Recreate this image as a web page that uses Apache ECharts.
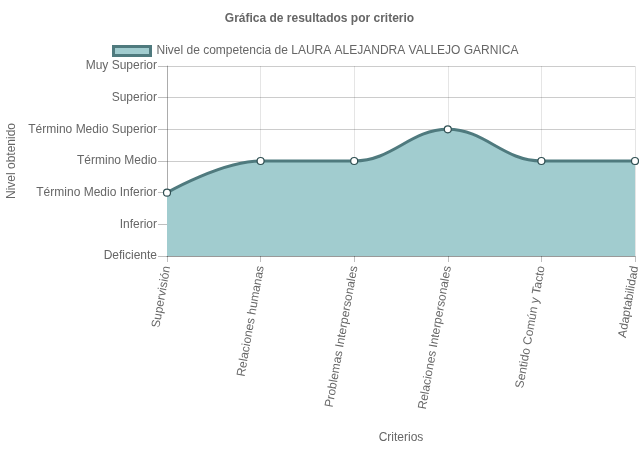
<!DOCTYPE html>
<html>
<head>
<meta charset="utf-8">
<script src="https://cdn.jsdelivr.net/npm/echarts@6/dist/echarts.min.js"></script>
<style>
html,body{margin:0;padding:0;background:#fff;}
#chart{width:639px;height:449px;}
</style>
</head>
<body>
<div id="chart"></div>
<script>
const categories = ["Supervisión", "Relaciones humanas", "Problemas Interpersonales", "Relaciones Interpersonales", "Sentido Común y Tacto", "Adaptabilidad"];
const levels = ["Deficiente", "Inferior", "Término Medio Inferior", "Término Medio", "Término Medio Superior", "Superior", "Muy Superior"];
const values = [2, 3, 3, 4, 3, 3];
const seriesName = "Nivel de competencia de LAURA ALEJANDRA VALLEJO GARNICA";

const font = "'Liberation Sans', Arial, Helvetica, sans-serif";
const lineColor = "rgb(79,122,126)";
const fillColor = "rgb(161,204,207)";

const chart = echarts.init(document.getElementById('chart'), null, {renderer: 'canvas'});
chart.setOption({
  animation: false,
  textStyle: {fontFamily: font},
  title: {
    text: "Gráfica de resultados por criterio",
    left: 'center', top: 8,
    textStyle: {fontFamily: font, fontSize: 12, fontWeight: 'bold', color: '#666'}
  },
  legend: {
    top: 40, left: 107,
    itemWidth: 37, itemHeight: 9, itemGap: 10,
    icon: 'rect',
    textStyle: {fontFamily: font, fontSize: 12, color: '#666', padding: [0, 0, 0, 1]},
    data: [{
      name: seriesName,
      itemStyle: {color: fillColor, borderColor: lineColor, borderWidth: 3}
    }]
  },
  grid: {left: 167, right: 4, top: 66, bottom: 193, containLabel: false, outerBoundsMode: 'none'},
  xAxis: {
    type: 'category',
    data: categories,
    boundaryGap: false,
    name: 'Criterios',
    nameLocation: 'middle',
    nameGap: 176,
    nameTextStyle: {fontFamily: font, fontSize: 12, color: '#666'},
    axisLine: {show: true, lineStyle: {color: 'rgba(0,0,0,0.25)', width: 1}},
    axisTick: {show: true, length: 6, lineStyle: {color: 'rgba(0,0,0,0.25)'}},
    axisLabel: {rotate: 80, margin: 10, fontFamily: font, fontSize: 12, color: '#666', interval: 0},
    splitLine: {show: true, lineStyle: {color: 'rgba(0,0,0,0.1)', width: 1}}
  },
  yAxis: {
    type: 'value',
    min: 0, max: 6, interval: 1,
    name: 'Nivel obtenido',
    nameLocation: 'middle',
    nameRotate: 90,
    nameGap: 148,
    nameTextStyle: {fontFamily: font, fontSize: 12, color: '#666'},
    axisLine: {show: true, lineStyle: {color: 'rgba(0,0,0,0.25)', width: 1}},
    axisTick: {show: true, length: 9, lineStyle: {color: 'rgba(0,0,0,0.25)'}},
    axisLabel: {
      margin: 10, fontFamily: font, fontSize: 12, color: '#666',
      formatter: function (v) { return levels[v] !== undefined ? levels[v] : ''; }
    },
    splitLine: {show: true, lineStyle: {color: 'rgba(0,0,0,0.2)', width: 1}}
  },
  series: [{
    name: seriesName,
    type: 'line',
    data: values,
    smooth: 0.4,
    symbol: 'circle',
    symbolSize: 7,
    z: 1,
    lineStyle: {color: lineColor, width: 3},
    itemStyle: {color: '#fff', borderColor: '#2f4f52', borderWidth: 1.2},
    areaStyle: {color: fillColor, opacity: 1, origin: 'start'}
  }]
});
</script>
</body>
</html>
